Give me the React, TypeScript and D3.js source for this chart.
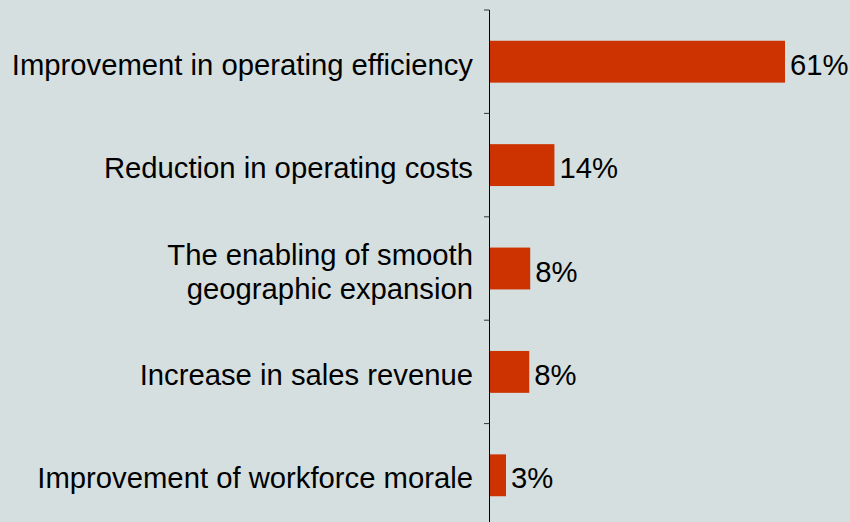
import React, { useEffect } from "react";
import * as d3 from "d3";

const categories: string[][] = [
  ["Improvement in operating efficiency"],
  ["Reduction in operating costs"],
  ["The enabling of smooth", "geographic expansion"],
  ["Increase in sales revenue"],
  ["Improvement of workforce morale"],
];
const values: number[] = [60.9, 13.3, 8.3, 8.1, 3.3];
const valueLabels: string[] = ["61%", "14%", "8%", "8%", "3%"];

const W = 850;
const H = 522;

export default function App() {
  useEffect(() => {
    document.body.style.margin = "0";
  }, []);

  const axisX = 489.5;
  const x = d3.scaleLinear().domain([0, 60.9]).range([490, 785]);
  const y = d3
    .scaleBand<number>()
    .domain(d3.range(categories.length))
    .range([10, 10 + 103.4 * 5])
    .paddingInner(0.595)
    .paddingOuter(0.2975);
  const step = y.step();
  const ticks = d3.range(categories.length + 1).map((i) => 10 + i * step);
  const font = "Liberation Sans, Arial, sans-serif";
  const fs = 29.25;

  return (
    <svg width={W} height={H} style={{ display: "block" }} fontFamily={font}>
      <rect x={0} y={0} width={W} height={H} fill="#d5dfdf" />
      {values.map((v, i) => (
        <rect
          key={"b" + i}
          x={x(0)}
          y={y(i)!}
          width={x(v) - x(0)}
          height={y.bandwidth()}
          fill="#cc3300"
        />
      ))}
      <line x1={axisX} x2={axisX} y1={10} y2={H} stroke="#000" strokeWidth={1} />
      {ticks.map((t, i) => (
        <line key={"t" + i} x1={484} x2={axisX} y1={t} y2={t} stroke="#333" strokeWidth={1} />
      ))}
      {categories.map((lines, i) => {
        const cy = y(i)! + y.bandwidth() / 2;
        const lh = 34;
        return (
          <text key={"c" + i} textAnchor="end" fontSize={fs} fill="#000">
            {lines.map((l, j) => (
              <tspan
                key={j}
                x={473}
                y={cy + 13 + (j - (lines.length - 1) / 2) * lh}
              >
                {l}
              </tspan>
            ))}
          </text>
        );
      })}
      {values.map((v, i) => (
        <text
          key={"v" + i}
          x={x(v) + 5}
          y={y(i)! + y.bandwidth() / 2 + 13}
          fontSize={fs}
          fill="#000"
        >
          {valueLabels[i]}
        </text>
      ))}
    </svg>
  );
}
